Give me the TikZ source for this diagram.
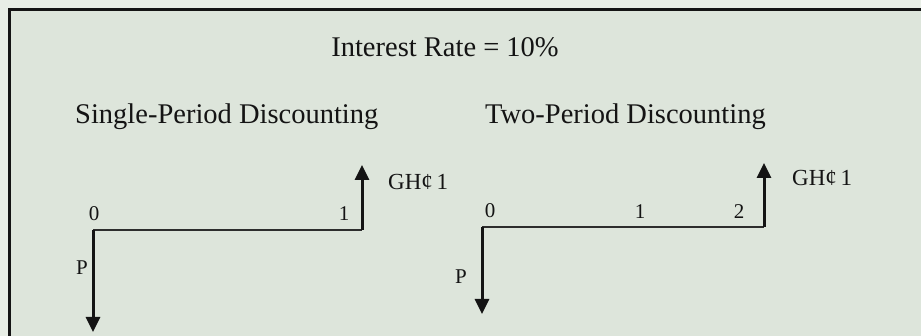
\documentclass[tikz,border=0pt]{standalone}
\usepackage{fontspec}
\setmainfont{Liberation Serif}
\usetikzlibrary{arrows.meta}
\definecolor{outbg}{RGB}{232,238,230}
\definecolor{inbg}{RGB}{221,229,219}
\definecolor{ink}{RGB}{20,20,20}
\definecolor{axisink}{RGB}{45,45,45}
\begin{document}
\begin{tikzpicture}[x=1pt,y=-1pt,
  head/.style={font=\fontsize{28.5}{31}\selectfont, text=ink, inner sep=0pt},
  lab/.style={font=\fontsize{21}{23}\selectfont, text=ink, inner sep=0pt},
  money/.style={font=\fontsize{23}{25}\selectfont, text=ink, inner sep=0pt},
  axis/.style={draw=axisink, line width=2pt},
  flow/.style={draw=ink, line width=3pt, -{Triangle[width=14pt,length=15pt]}}]
\useasboundingbox (0,0) rectangle (921,336);
\fill[outbg] (0,0) rectangle (921,336);
\fill[inbg] (9,10) rectangle (921,336);
\draw[ink, line width=3pt] (9,340) -- (9,10) -- (925,10);
% titles
\node[head] (title) at (445,47) {Interest Rate = 10\%};
\node[head, anchor=west] (single) at (75,117) {Single-Period Discounting};
\node[head, anchor=west] (two) at (485,117) {Two-Period Discounting};
% single-period timeline
\coordinate (a0) at (93,230);
\coordinate (a1) at (362,230);
\coordinate (aup) at (362,165);
\coordinate (adn) at (93,332);
\draw[axis] (a0) -- (a1);
\draw[flow] (a1) -- (aup);
\draw[flow] (a0) -- (adn);
\node[lab] (l0) at (94,214) {0};
\node[lab] (l1) at (344,214) {1};
\node[lab] (lp) at (82,268) {P};
\node[money, anchor=west] (g1) at (388,182) {GH¢\,1};
% two-period timeline
\coordinate (b0) at (482,227);
\coordinate (b2) at (764,227);
\coordinate (bup) at (764,163);
\coordinate (bdn) at (482,314);
\draw[axis] (b0) -- (b2);
\draw[flow] (b2) -- (bup);
\draw[flow] (b0) -- (bdn);
\node[lab] (m0) at (490,211) {0};
\node[lab] (m1) at (640,212) {1};
\node[lab] (m2) at (739,212) {2};
\node[lab] (mp) at (461,277) {P};
\node[money, anchor=west] (g2) at (792,178) {GH¢\,1};
\end{tikzpicture}
\end{document}
